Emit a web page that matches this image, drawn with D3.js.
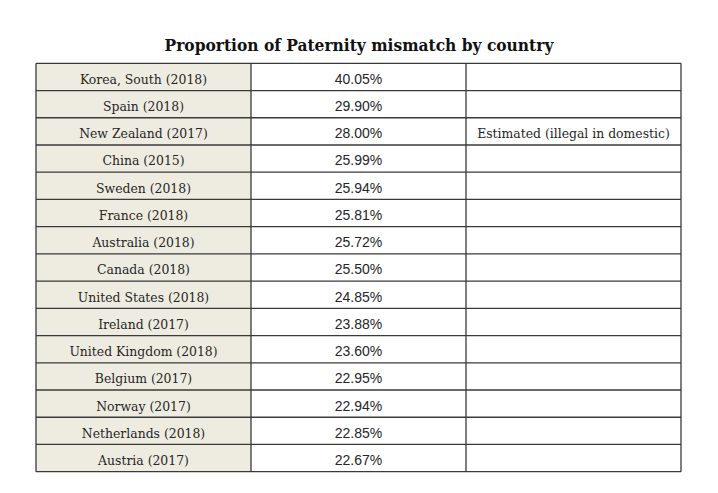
<!DOCTYPE html>
<html>
<head>
<meta charset="utf-8">
<script src="https://cdn.jsdelivr.net/npm/d3@7"></script>
<style>
  html, body { margin: 0; padding: 0; background: #fff; }
  svg { display: block; }
</style>
</head>
<body>
<svg id="chart" width="718" height="493"></svg>
<script>
const title = "Proportion of Paternity mismatch by country";
const countries = [
  "Korea, South (2018)", "Spain (2018)", "New Zealand (2017)", "China (2015)",
  "Sweden (2018)", "France (2018)", "Australia (2018)", "Canada (2018)",
  "United States (2018)", "Ireland (2017)", "United Kingdom (2018)",
  "Belgium (2017)", "Norway (2017)", "Netherlands (2018)", "Austria (2017)"
];
const values = [40.05, 29.90, 28.00, 25.99, 25.94, 25.81, 25.72, 25.50, 24.85, 23.88, 23.60, 22.95, 22.94, 22.85, 22.67];
const notes = ["", "", "Estimated (illegal in domestic)", "", "", "", "", "", "", "", "", "", "", "", ""];
const columns = ["country", "value", "note"];

const serif = "'DejaVu Serif Condensed', 'DejaVu Serif', serif";
const svg = d3.select("#chart");
svg.append("rect").attr("width", 718).attr("height", 493).attr("fill", "#fff");

const y = d3.scaleBand().domain(countries).range([63.3, 471.7]);
const x = d3.scaleBand().domain(columns).range([36, 681]);
const fmt = v => d3.format(".2f")(v) + "%";

svg.append("text")
  .attr("x", 359).attr("y", 51)
  .attr("text-anchor", "middle")
  .attr("font-family", serif)
  .attr("font-weight", "bold")
  .attr("font-size", 17.2)
  .attr("fill", "#111")
  .text(title);

const rows = countries.map((c, i) => ({ country: c, value: fmt(values[i]), note: notes[i] }));

svg.append("rect")
  .attr("x", x("country")).attr("y", y.range()[0])
  .attr("width", x.bandwidth()).attr("height", y.range()[1] - y.range()[0])
  .attr("fill", "#eeece1");

const g = svg.selectAll("g.row").data(rows).join("g").attr("class", "row");

g.append("text")
  .attr("x", x("country") + x.bandwidth() / 2)
  .attr("y", d => y(d.country) + 20.5)
  .attr("text-anchor", "middle")
  .attr("font-family", serif)
  .attr("font-size", 13.8)
  .attr("fill", "#262626")
  .text(d => d.country);

g.append("text")
  .attr("x", x("value") + x.bandwidth() / 2)
  .attr("y", d => y(d.country) + 20.5)
  .attr("text-anchor", "middle")
  .attr("font-family", "'Liberation Sans', sans-serif")
  .attr("font-size", 14)
  .attr("fill", "#262626")
  .text(d => d.value);

g.append("text")
  .attr("x", x("note") + x.bandwidth() / 2)
  .attr("y", d => y(d.country) + 20.5)
  .attr("text-anchor", "middle")
  .attr("font-family", serif)
  .attr("font-size", 13.8)
  .attr("fill", "#262626")
  .text(d => d.note);

const lineColor = "#3a3a3a";
const hy = countries.map(c => y(c)).concat([y.range()[1]]);
svg.selectAll("line.h").data(hy).join("line").attr("class", "h")
  .attr("x1", 36).attr("x2", 681)
  .attr("y1", d => d).attr("y2", d => d)
  .attr("stroke", lineColor).attr("stroke-width", 1.3);
const vx = columns.map(c => x(c)).concat([x.range()[1]]);
svg.selectAll("line.v").data(vx).join("line").attr("class", "v")
  .attr("x1", d => d).attr("x2", d => d)
  .attr("y1", y.range()[0]).attr("y2", y.range()[1])
  .attr("stroke", lineColor).attr("stroke-width", 1.3);
</script>
</body>
</html>
